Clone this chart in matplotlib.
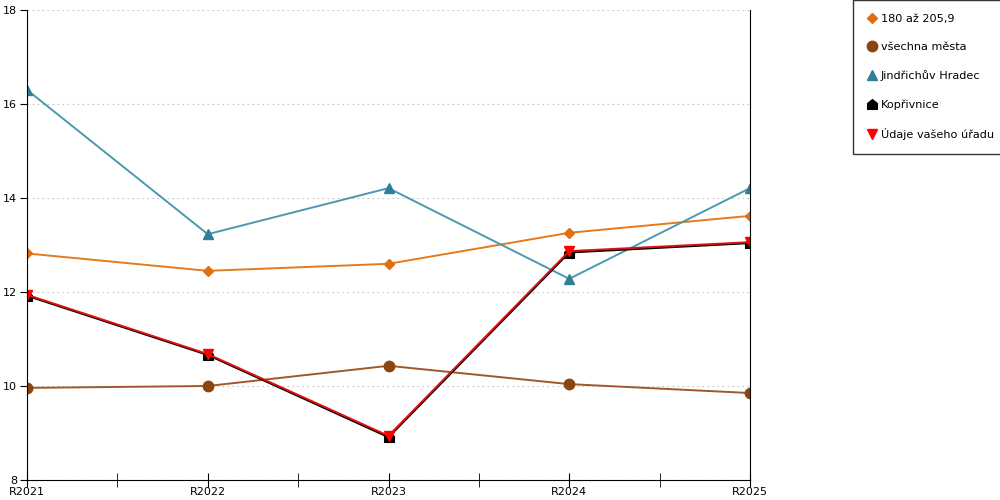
import numpy as np
import matplotlib
matplotlib.use('Agg')
from matplotlib import pyplot as plt
from matplotlib.path import Path

plt.rcParams['font.family'] = ['DejaVu Sans']

roky = ['R2021', 'R2022', 'R2023', 'R2024', 'R2025']
skupina = [12.82, 12.45, 12.60, 13.26, 13.62]        # 180 až 205,9
vsechna = [9.96, 10.00, 10.43, 10.04, 9.85]         # všechna města
jindrichuv = [16.30, 13.23, 14.21, 12.28, 14.21]    # Jindřichův Hradec
koprivnice = [11.92, 10.66, 8.91, 12.84, 13.04]     # Kopřivnice
urad = [11.94, 10.68, 8.94, 12.87, 13.06]           # Údaje vašeho úřadu

# domecek - marker pro Koprivnici
dum = Path([(-1, -1), (1, -1), (1, 0.2), (0, 1), (-1, 0.2), (-1, -1)],
           [Path.MOVETO, Path.LINETO, Path.LINETO, Path.LINETO, Path.LINETO, Path.CLOSEPOLY])

fig = plt.figure(figsize=(10, 5), dpi=100)
ax = fig.add_axes([0.027, 0.04, 0.723, 0.94])
x = np.arange(len(roky))

ax.plot(x, skupina, color='#e57a1c', lw=1.4, marker='D', markersize=5.5, markerfacecolor='#e0700f', markeredgecolor='#e0700f', label='180 až 205,9')
ax.plot(x, vsechna, color='#a0582a', lw=1.4, marker='o', markersize=7.5, markerfacecolor='#8b4510', markeredgecolor='#8b4510', label='všechna města')
ax.plot(x, jindrichuv, color='#4a9aad', lw=1.4, marker='^', markersize=7.5, markerfacecolor='#2e8099', markeredgecolor='#2e8099', label='Jindřichův Hradec')
ax.plot(x, koprivnice, color='#000000', lw=1.4, marker=dum, markersize=7, markerfacecolor='black', markeredgecolor='black', label='Kopřivnice')
ax.plot(x, urad, color='#e01010', lw=1.4, marker='v', markersize=7.5, markerfacecolor='#ff0000', markeredgecolor='#ff0000', label='Údaje vašeho úřadu')

ax.set_xlim(0, 4)
ax.set_ylim(8, 18)
ax.set_xticks(x)
ax.set_xticklabels(roky, fontsize=8)
ax.set_xticks(np.arange(0.5, 4, 1), minor=True)
ax.set_yticks([8, 10, 12, 14, 16, 18])
ax.tick_params(axis='y', labelsize=8, direction='out', length=5, pad=2)
ax.tick_params(axis='x', which='both', direction='inout', length=10, pad=0)
ax.grid(axis='y', linestyle=(0, (1.5, 3)), color='#c4c4c4', lw=0.8)
ax.spines['top'].set_visible(False)
ax.spines['right'].set_visible(True)

leg = fig.legend(loc='upper left', bbox_to_anchor=(0.853, 1.0), fontsize=8.1, frameon=True,
                 fancybox=False, edgecolor='black', handlelength=0.8, handletextpad=0.4,
                 labelspacing=1.62, borderpad=1.25, borderaxespad=0)
leg.get_frame().set_linewidth(1.0)
for h in leg.legend_handles:
    h.set_linestyle('None')

fig.savefig('out.png', dpi=100)
